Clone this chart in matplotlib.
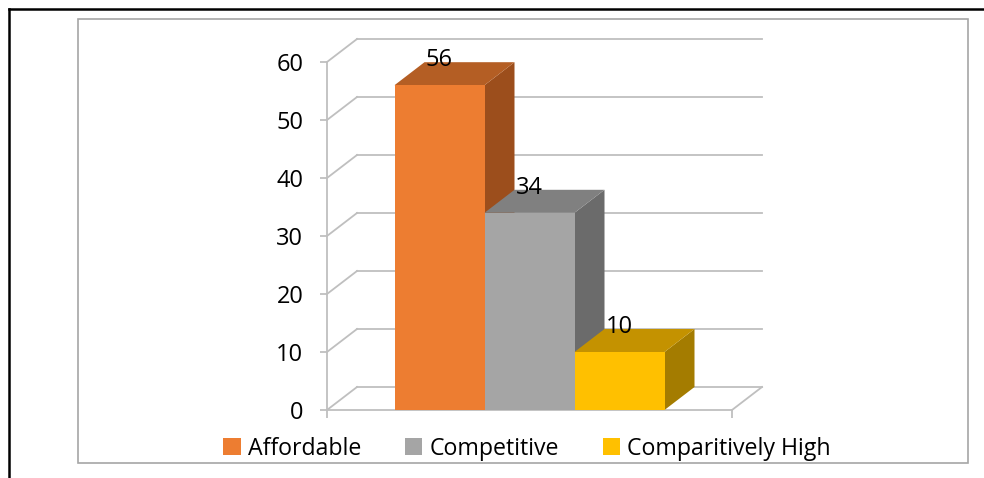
import matplotlib
matplotlib.use("Agg")
import matplotlib.pyplot as plt
from matplotlib.patches import Rectangle, Polygon, Patch
from matplotlib.lines import Line2D

plt.rcParams['font.family'] = ['Open Sans', 'DejaVu Sans']

categories = ["Affordable", "Competitive", "Comparitively High"]
values = [56, 34, 10]
y_ticks = [0, 10, 20, 30, 40, 50, 60]

front_colors = ["#ED7D31", "#A5A5A5", "#FFC000"]
top_colors = ["#B45E24", "#808080", "#C49200"]
side_colors = ["#9C4E1C", "#6B6B6B", "#A47C00"]
grid_color = "#BFBFBF"
fs = 17

W, H = 984, 478
fig = plt.figure(figsize=(W / 100, H / 100), dpi=100)

# front plane of the 3-d box: category axis on x, value on y
x0, x1 = -1.25, 3.25
ax = fig.add_axes([327 / W, 68 / H, 405 / W, 348 / H])
ax.set_xlim(x0, x1)
ax.set_ylim(0, 60)

# depth of the box (30 px right, 23 px up) expressed in data units
px_x = 405 / (x1 - x0)
px_y = 348 / 60
dx, dy = 30 / px_x, 23 / px_y

for s in ("top", "right"):
    ax.spines[s].set_visible(False)
for s in ("left", "bottom"):
    ax.spines[s].set_color(grid_color)
    ax.spines[s].set_linewidth(1.3)

ax.set_yticks(y_ticks)
ax.tick_params(axis="y", length=5, width=1.3, color=grid_color, labelsize=fs, pad=12)
ax.set_xticks([x0, x1])
ax.set_xticklabels([])
ax.tick_params(axis="x", length=5.5, width=1.3, color=grid_color)

# back wall gridlines and the diagonals linking them to the front axis
for v in y_ticks:
    ax.plot([x0 + dx, x1 + dx], [v + dy, v + dy], color=grid_color, lw=1.3, clip_on=False, zorder=1)
    ax.plot([x0, x0 + dx], [v, v + dy], color=grid_color, lw=1.3, clip_on=False, zorder=1)
ax.plot([x1, x1 + dx], [0, dy], color=grid_color, lw=1.3, clip_on=False, zorder=1)

for i, v in enumerate(values):
    z = 3 + i
    l, r = i - 0.5, i + 0.5
    side = Polygon([(r, 0), (r + dx, dy), (r + dx, v + dy), (r, v)], closed=True,
                   facecolor=side_colors[i], edgecolor="none", clip_on=False, zorder=z)
    top = Polygon([(l, v), (r, v), (r + dx, v + dy), (l + dx, v + dy)], closed=True,
                  facecolor=top_colors[i], edgecolor="none", clip_on=False, zorder=z)
    front = Rectangle((l, 0), 1, v, facecolor=front_colors[i], edgecolor="none",
                      clip_on=False, zorder=z)
    ax.add_patch(side)
    ax.add_patch(top)
    ax.add_patch(front)
    ax.text(l + dx + 1 / px_x, v + dy - 4 / px_y, str(v), ha="left", va="baseline",
            fontsize=fs, color="black", zorder=10)

handles = [Patch(facecolor=c, edgecolor="none", label=n) for c, n in zip(front_colors, categories)]
fig.legend(handles=handles, loc="center", bbox_to_anchor=(527 / W, 1 - 449 / H), ncol=3,
           frameon=False, fontsize=16.7, handlelength=0.75, handleheight=0.75,
           handletextpad=0.3, columnspacing=1.9)

# chart area border and outer frame
fig.patches.append(Rectangle((78 / W, 15 / H), 890 / W, 444 / H, transform=fig.transFigure,
                             facecolor="none", edgecolor="#A6A6A6", lw=1.2))
fig.lines.append(Line2D([8.5 / W, 1], [1 - 8.5 / H, 1 - 8.5 / H], transform=fig.transFigure,
                        color="black", lw=1.8))
fig.lines.append(Line2D([8.5 / W, 8.5 / W], [0, 1 - 8.5 / H], transform=fig.transFigure,
                        color="black", lw=1.8))

fig.savefig("out.png", dpi=100)
